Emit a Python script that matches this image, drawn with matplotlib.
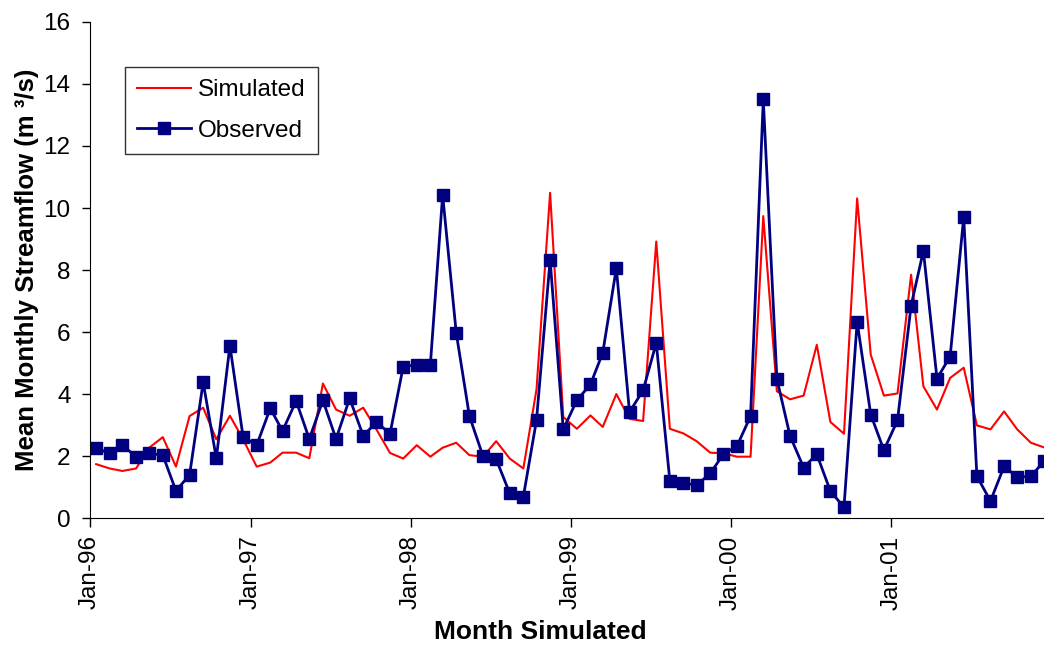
import numpy as np
import pandas as pd
import matplotlib
matplotlib.use("Agg")
import matplotlib.pyplot as plt
import matplotlib.dates as mdates

plt.rcParams['font.family'] = ['Liberation Sans', 'DejaVu Sans']

# monthly values, Jan-96 .. Dec-01 (plotted mid-month)
months = pd.date_range("1996-01-01", periods=72, freq="MS") + pd.Timedelta(days=14)

simulated = [1.74, 1.60, 1.52, 1.60, 2.27, 2.61, 1.66, 3.29, 3.56, 2.54, 3.30, 2.54,
             1.66, 1.79, 2.11, 2.11, 1.93, 4.34, 3.50, 3.30, 3.56, 2.86, 2.10, 1.92,
             2.35, 1.98, 2.27, 2.43, 2.03, 1.98, 2.48, 1.92, 1.60, 4.15, 10.49, 3.26,
             2.88, 3.31, 2.94, 4.00, 3.20, 3.13, 8.92, 2.88, 2.73, 2.48, 2.11, 2.09,
             1.98, 1.98, 9.74, 4.09, 3.83, 3.95, 5.59, 3.10, 2.72, 10.31, 5.27, 3.95,
             4.02, 7.85, 4.25, 3.50, 4.52, 4.85, 2.99, 2.86, 3.44, 2.86, 2.43, 2.28]

observed = [2.25, 2.09, 2.35, 1.98, 2.09, 2.03, 0.88, 1.39, 4.38, 1.93, 5.56, 2.62,
            2.35, 3.54, 2.81, 3.78, 2.55, 3.80, 2.55, 3.86, 2.65, 3.10, 2.72, 4.88,
            4.95, 4.95, 10.42, 5.97, 3.29, 2.00, 1.90, 0.80, 0.69, 3.16, 8.33, 2.86,
            3.80, 4.31, 5.33, 8.06, 3.42, 4.12, 5.65, 1.20, 1.13, 1.06, 1.44, 2.06,
            2.32, 3.29, 13.50, 4.49, 2.65, 1.63, 2.06, 0.87, 0.35, 6.33, 3.34, 2.19,
            3.15, 6.85, 8.62, 4.50, 5.21, 9.71, 1.35, 0.55, 1.67, 1.32, 1.35, 1.83]

fig = plt.figure(figsize=(10.44, 6.46), dpi=100)
ax = fig.add_axes([0.0862, 0.198, 0.9138, 0.768])

ax.plot(months, simulated, color='#ff0000', lw=1.5, label='Simulated')
ax.plot(months, observed, color='#000080', lw=2, marker='s', ms=8.5,
        mec='#000080', mfc='#000080', label='Observed')

ax.set_xlim(pd.Timestamp("1996-01-01"), months[-1])
ax.set_ylim(0, 16)
ax.set_yticks(np.arange(0, 17, 2))
ax.xaxis.set_major_locator(mdates.YearLocator(month=1, day=1))
ax.xaxis.set_major_formatter(mdates.DateFormatter('%b-%y'))
ax.tick_params(axis='x', labelrotation=90, labelsize=17.5, length=6.5, width=1, pad=6)
ax.tick_params(axis='y', labelsize=17.5, length=6, width=1, pad=8)

for s in ['top', 'right']:
    ax.spines[s].set_visible(False)

ax.set_xlabel('Month Simulated', fontsize=19, fontweight='bold', labelpad=10)
ax.xaxis.set_label_coords(0.472, -0.205)
ax.set_ylabel('Mean Monthly Streamflow (m \u00b3/s)', fontsize=18.5,
              fontweight='bold', labelpad=3)

leg = ax.legend(loc='upper left', bbox_to_anchor=(0.0367, 0.909), borderaxespad=0,
                fontsize=17.5, frameon=True, fancybox=False, edgecolor='black',
                handlelength=2.2, handletextpad=0.3, borderpad=0.5, labelspacing=0.75)
leg.get_frame().set_linewidth(1)

fig.savefig('out.png', dpi=100)
